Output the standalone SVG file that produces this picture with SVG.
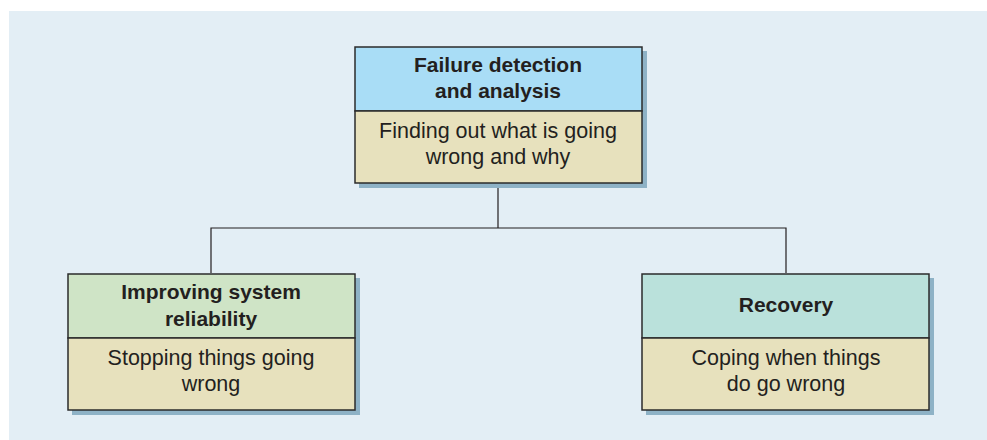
<svg xmlns="http://www.w3.org/2000/svg" width="987" height="440" viewBox="0 0 987 440">
<style>
.sh{fill:#8eb2c6}
.box{stroke:#2b2b2b;stroke-width:1.5}
.t{font-family:"Liberation Sans",Arial,sans-serif;font-size:21.5px;fill:#231f20;text-anchor:middle}
.b{font-weight:bold;font-size:21px}
.conn{fill:none;stroke:#231f20;stroke-width:1.2}
</style>
<rect x="0" y="0" width="987" height="440" fill="#ffffff"/>
<rect x="9" y="11" width="978" height="429" fill="#e3eef5"/>
<g id="connectors">
<path class="conn" d="M498 183V228M211 273V228H786V273"/>
</g>
<g id="node-failure">
<rect class="sh" x="359" y="51" width="288" height="137"/>
<rect class="box" x="355" y="47" width="287" height="64" fill="#a9ddf6"/>
<rect class="box" x="355" y="111" width="287" height="72" fill="#e7e1bd"/>
<text class="t b" x="498" y="72">Failure detection</text>
<text class="t b" x="498" y="98">and analysis</text>
<text class="t" x="498" y="138">Finding out what is going</text>
<text class="t" x="498" y="164">wrong and why</text>
</g>
<g id="node-improving">
<rect class="sh" x="72" y="278" width="288" height="137"/>
<rect class="box" x="68" y="274" width="287" height="64" fill="#cfe4c6"/>
<rect class="box" x="68" y="338" width="287" height="72" fill="#e7e1bd"/>
<text class="t b" x="211" y="299">Improving system</text>
<text class="t b" x="211" y="326">reliability</text>
<text class="t" x="211" y="365">Stopping things going</text>
<text class="t" x="211" y="391">wrong</text>
</g>
<g id="node-recovery">
<rect class="sh" x="646" y="278" width="288" height="137"/>
<rect class="box" x="642" y="274" width="287" height="64" fill="#bae1db"/>
<rect class="box" x="642" y="338" width="287" height="72" fill="#e7e1bd"/>
<text class="t b" x="786" y="312">Recovery</text>
<text class="t" x="786" y="365">Coping when things</text>
<text class="t" x="786" y="391">do go wrong</text>
</g>
</svg>
